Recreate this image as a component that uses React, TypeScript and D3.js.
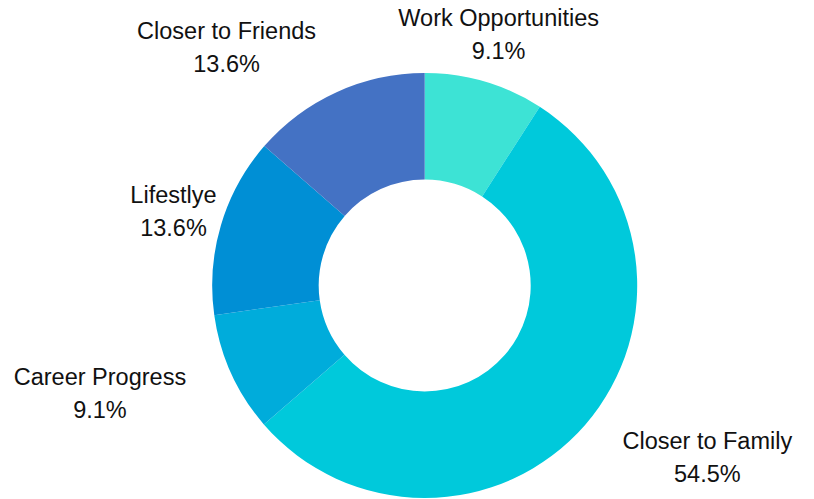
import React from "react";
import * as d3 from "d3";

const categories = ["Work Opportunities", "Closer to Family", "Career Progress", "Lifestlye", "Closer to Friends"];
const shares = [9.1, 54.5, 9.1, 13.6, 13.6];
const colors = ["#3de3d5", "#00c9db", "#00acdb", "#008fd5", "#4472c4"];
const labelAlign = ["middle", "start", "end", "middle", "end"];

const W = 814;
const H = 499;
const CX = 424.7;
const CY = 285.5;
const R_OUT = 212.5;
const R_IN = 106;
const R_LABEL = 262;
const FONT = 23.5;
const FONT_FAMILY = "'Liberation Sans', Arial, sans-serif";

let ctx: CanvasRenderingContext2D | null = null;
function textWidth(s: string): number {
  if (!ctx) {
    const c = document.createElement("canvas");
    ctx = c.getContext("2d");
  }
  if (!ctx) return s.length * FONT * 0.55;
  ctx.font = `${FONT}px ${FONT_FAMILY}`;
  return ctx.measureText(s).width;
}

export default function App() {
  const pie = d3
    .pie<number>()
    .sort(null)
    .value((d) => d)
    .startAngle(0)
    .endAngle(2 * Math.PI);
  const arcs = pie(shares);
  const arc = d3.arc<d3.PieArcDatum<number>>().innerRadius(R_IN).outerRadius(R_OUT);

  return (
    <svg
      width={W}
      height={H}
      style={{ position: "absolute", left: 0, top: 0, background: "#fff" }}
    >
      <g transform={`translate(${CX},${CY})`}>
        {arcs.map((a, i) => (
          <path key={i} d={arc(a) || ""} fill={colors[i]} />
        ))}
        {arcs.map((a, i) => {
          const mid = (a.startAngle + a.endAngle) / 2;
          const ax = Math.sin(mid) * R_LABEL;
          const y = -Math.cos(mid) * R_LABEL;
          const pct = `${shares[i].toFixed(1)}%`;
          const w = Math.max(textWidth(categories[i]), textWidth(pct));
          const x =
            labelAlign[i] === "start" ? ax + w / 2 : labelAlign[i] === "end" ? ax - w / 2 : ax;
          return (
            <text
              key={"l" + i}
              textAnchor="middle"
              fontFamily={FONT_FAMILY}
              fontSize={FONT}
              fill="#111"
            >
              <tspan x={x} y={y - 8.5}>{categories[i]}</tspan>
              <tspan x={x} y={y + 24.5}>{pct}</tspan>
            </text>
          );
        })}
      </g>
    </svg>
  );
}
